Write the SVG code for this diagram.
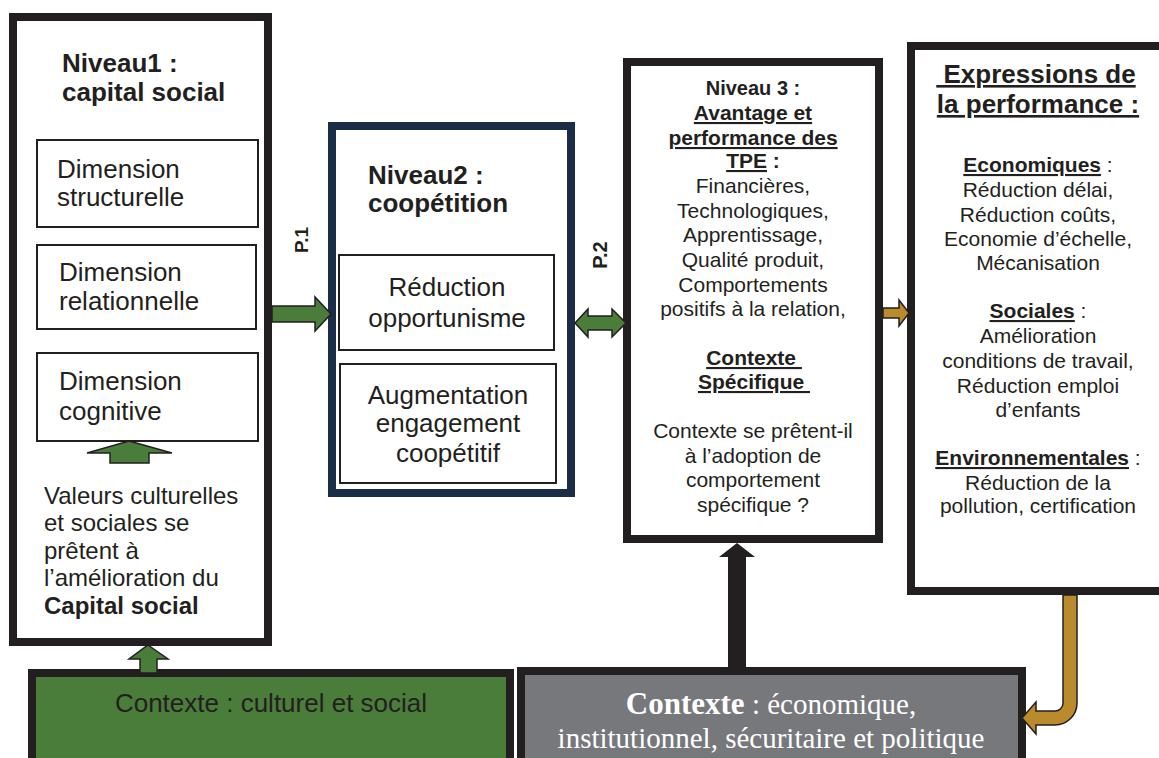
<svg xmlns="http://www.w3.org/2000/svg" width="1159" height="758" viewBox="0 0 1159 758">
<style>
text{font-family:"Liberation Sans",Arial,Helvetica,sans-serif;fill:#231f20}
.b{font-weight:bold}
.u{text-decoration:underline}
.m{text-anchor:middle}
.t26{font-size:26px}
.t24{font-size:24px}
.t21{font-size:21px}
.box{fill:#fff;stroke:#231f20;stroke-width:8}
.navy{fill:#fff;stroke:#1c2d48;stroke-width:8}
.inner{fill:#fff;stroke:#231f20;stroke-width:2}
.green{fill:#4a7c3a;stroke:#231f20;stroke-width:1.5}
.gold{fill:#b98b2c;stroke:#231f20;stroke-width:1.5}
.black{fill:#231f20}
.serif{font-family:"Liberation Serif","Times New Roman",serif;font-size:29px;fill:#ffffff}
</style>
<rect width="1159" height="758" fill="#ffffff"/>

<g id="niveau1">
  <rect class="box" x="13" y="17" width="255" height="625"/>
  <text class="b t26" x="62" y="72">Niveau1 :</text>
  <text class="b t26" x="62" y="101">capital social</text>
  <g id="dim-structurelle">
    <rect class="inner" x="37" y="140" width="221" height="87"/>
    <text class="t26" x="57" y="178">Dimension</text>
    <text class="t26" x="57" y="206">structurelle</text>
  </g>
  <g id="dim-relationnelle">
    <rect class="inner" x="37" y="245" width="219" height="84"/>
    <text class="t26" x="59" y="281">Dimension</text>
    <text class="t26" x="59" y="310">relationnelle</text>
  </g>
  <g id="dim-cognitive">
    <rect class="inner" x="37" y="353" width="221" height="88"/>
    <text class="t26" x="59" y="390">Dimension</text>
    <text class="t26" x="59" y="420">cognitive</text>
  </g>
  <g id="valeurs">
    <text class="t24" x="44" y="504">Valeurs culturelles</text>
    <text class="t24" x="44" y="531">et sociales se</text>
    <text class="t24" x="44" y="559">prêtent à</text>
    <text class="t24" x="44" y="586">l’amélioration du</text>
    <text class="t24 b" x="44" y="614">Capital social</text>
  </g>
</g>

<g id="niveau2">
  <rect class="navy" x="332" y="126" width="239" height="367"/>
  <text class="b t26" x="368" y="184">Niveau2 :</text>
  <text class="b t26" x="368" y="212">coopétition</text>
  <g id="reduction">
    <rect class="inner" x="339" y="255" width="215" height="95"/>
    <text class="t26 m" x="447" y="296">Réduction</text>
    <text class="t26 m" x="447" y="327">opportunisme</text>
  </g>
  <g id="augmentation">
    <rect class="inner" x="340" y="364" width="216" height="119"/>
    <text class="t26 m" x="448" y="404">Augmentation</text>
    <text class="t26 m" x="448" y="432">engagement</text>
    <text class="t26 m" x="448" y="462">coopétitif</text>
  </g>
</g>

<g id="niveau3">
  <rect class="box" x="627" y="62" width="252" height="477"/>
  <text class="b m" style="font-size:20px" x="753" y="95">Niveau 3 :</text>
  <text class="b m u t21" x="753" y="120">Avantage et</text>
  <text class="b m u t21" x="753" y="145">performance des</text>
  <text class="b m t21" x="753" y="168"><tspan class="u">TPE</tspan> :</text>
  <text class="m t21" x="753" y="193">Financières,</text>
  <text class="m t21" x="753" y="218">Technologiques,</text>
  <text class="m t21" x="753" y="242">Apprentissage,</text>
  <text class="m t21" x="753" y="267">Qualité produit,</text>
  <text class="m t21" x="753" y="292">Comportements</text>
  <text class="m t21" x="753" y="316">positifs à la relation,</text>
  <text class="b m u t21" x="754" y="365">Contexte&#160;</text>
  <text class="b m u t21" x="754" y="389">Spécifique&#160;</text>
  <text class="m t21" x="753" y="438">Contexte se prêtent-il</text>
  <text class="m t21" x="753" y="463">à l’adoption de</text>
  <text class="m t21" x="753" y="487">comportement</text>
  <text class="m t21" x="753" y="512">spécifique ?</text>
</g>

<g id="expressions">
  <rect class="box" x="911" y="46" width="300" height="545"/>
  <text class="b m u t26" x="1036" y="83">&#160;Expressions de</text>
  <text class="b m u t26" x="1038" y="113">la performance :</text>
  <text class="m t21" x="1038" y="172"><tspan class="b u">Economiques</tspan> :</text>
  <text class="m t21" x="1038" y="197">Réduction délai,</text>
  <text class="m t21" x="1038" y="222">Réduction coûts,</text>
  <text class="m t21" x="1038" y="246">Economie d’échelle,</text>
  <text class="m t21" x="1038" y="270">Mécanisation</text>
  <text class="m t21" x="1038" y="318"><tspan class="b u">Sociales</tspan> :</text>
  <text class="m t21" x="1038" y="343">Amélioration</text>
  <text class="m t21" x="1038" y="368">conditions de travail,</text>
  <text class="m t21" x="1038" y="393">Réduction emploi</text>
  <text class="m t21" x="1038" y="417">d’enfants</text>
  <text class="m t21" x="1038" y="465"><tspan class="b u">Environnementales</tspan> :</text>
  <text class="m t21" x="1038" y="490">Réduction de la</text>
  <text class="m t21" x="1038" y="513">pollution, certification</text>
</g>

<g id="contexte-culturel">
  <rect x="32" y="673" width="478" height="120" fill="#4a7c3a" stroke="#231f20" stroke-width="8"/>
  <text class="m t26" x="271" y="712">Contexte : culturel et social</text>
</g>

<g id="contexte-economique">
  <rect x="521" y="671" width="501" height="120" fill="#77787b" stroke="#231f20" stroke-width="8"/>
  <text class="serif" text-anchor="middle" x="771" y="714"><tspan font-weight="bold" font-size="31px">Contexte</tspan> : économique,</text>
  <text class="serif" text-anchor="middle" x="771" y="748">institutionnel, sécuritaire et politique</text>
</g>

<g id="connectors">
  <path class="green" d="M129 441 L172 453 L149 453 L149 463 L110 463 L110 453 L87 453 Z"/>
  <path class="green" d="M148 645 L168 659 L157 659 L157 673 L140 673 L140 659 L129 659 Z"/>
  <path class="green" d="M272 306 L315 306 L315 297 L331 314 L315 331 L315 322 L272 322 Z"/>
  <path class="green" d="M575 323 L588 309 L588 316 L612 316 L612 309 L626 323 L612 337 L612 330 L588 330 L588 337 Z"/>
  <path class="gold" d="M883 308 L899 308 L899 300 L909 313 L899 326 L899 318 L883 318 Z"/>
  <path class="black" d="M737 543 L755 557 L746 557 L746 671 L728 671 L728 557 L719 557 Z"/>
  <path class="gold" d="M1063 595 L1077 595 L1077 703 A22 22 0 0 1 1055 725 L1036 725 L1036 734 L1022 718 L1036 702 L1036 711 L1055 711 A8 8 0 0 0 1063 703 Z"/>
  <text class="b" style="font-size:19px" transform="translate(308,240) rotate(-90)" text-anchor="middle">P.1</text>
  <text class="b" style="font-size:20px" transform="translate(607,255) rotate(-90)" text-anchor="middle">P.2</text>
</g>
</svg>
